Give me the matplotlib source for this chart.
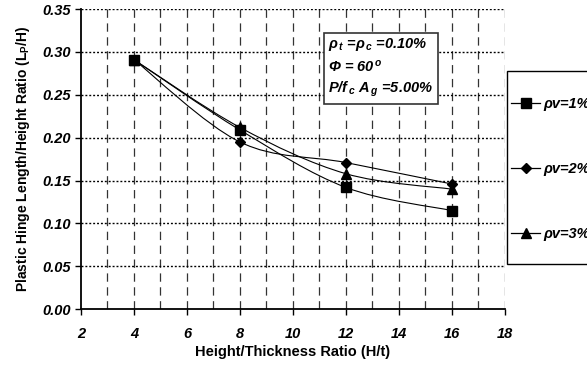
import numpy as np
import matplotlib.pyplot as plt
from matplotlib.path import Path
from matplotlib.patches import PathPatch, Rectangle
from matplotlib.lines import Line2D

plt.rcParams['font.family'] = ['Liberation Sans', 'DejaVu Sans']
plt.rcParams['mathtext.fontset'] = 'custom'
plt.rcParams['mathtext.rm'] = 'Liberation Sans:bold:italic'
plt.rcParams['mathtext.it'] = 'Liberation Sans:bold:italic'
plt.rcParams['mathtext.bf'] = 'Liberation Sans:bold:italic'
plt.rcParams['lines.scale_dashes'] = False

# data
ratio_ht = [4, 8, 12, 16]
rho_v1 = [0.291, 0.209, 0.142, 0.115]
rho_v2 = [0.291, 0.195, 0.171, 0.146]
rho_v3 = [0.291, 0.212, 0.158, 0.140]
labels = ['ρv=1%', 'ρv=2%', 'ρv=3%']
markers = ['s', 'D', '^']
msizes = [6.5, 5, 6.5]

x_ticks = list(range(2, 19, 2))
y_ticks = [0.00, 0.05, 0.10, 0.15, 0.20, 0.25, 0.30, 0.35]


def smooth_path(x, y, t=1/6):
    # Excel-like smoothed line: cubic bezier through the points
    x = np.asarray(x, float)
    y = np.asarray(y, float)
    n = len(x)
    verts = [(x[0], y[0])]
    codes = [Path.MOVETO]
    for i in range(n - 1):
        i0 = max(i - 1, 0)
        i3 = min(i + 2, n - 1)
        c1 = (x[i] + (x[i + 1] - x[i0]) * t, y[i] + (y[i + 1] - y[i0]) * t)
        c2 = (x[i + 1] - (x[i3] - x[i]) * t, y[i + 1] - (y[i3] - y[i]) * t)
        verts += [c1, c2, (x[i + 1], y[i + 1])]
        codes += [Path.CURVE4] * 3
    return Path(verts, codes)


fig = plt.figure(figsize=(5.87, 3.65), dpi=100)
ax = fig.add_axes([0.138, 0.153, 0.722, 0.822])

for yv, m, ms in zip([rho_v1, rho_v2, rho_v3], markers, msizes):
    ax.add_patch(PathPatch(smooth_path(ratio_ht, yv), fill=False,
                           edgecolor='black', lw=0.8, zorder=3))
    ax.plot(ratio_ht, yv, ls='none', marker=m, ms=ms, color='black', zorder=4)

ax.set_xlim(2, 18)
ax.set_ylim(0, 0.35)
ax.set_xticks(x_ticks)
ax.set_yticks(y_ticks)
ax.set_xticklabels([str(v) for v in x_ticks])
ax.set_yticklabels(['%.2f' % v for v in y_ticks])

for lab in ax.get_xticklabels() + ax.get_yticklabels():
    lab.set_fontweight('bold')
    lab.set_fontstyle('italic')
    lab.set_fontsize(10.5)

ax.tick_params(axis='x', direction='out', length=4, width=1, pad=9)
ax.tick_params(axis='y', direction='out', length=4, width=1, pad=3)

# grid
for xv in range(3, 19):
    ax.plot([xv, xv], [0, 0.35], color='#333333', lw=0.9, dashes=(6, 4), zorder=1)
for yv in y_ticks[1:]:
    ax.plot([2, 18], [yv, yv], color='black', lw=1.0, dashes=(1.4, 1.4), zorder=1)

for s in ['top', 'right']:
    ax.spines[s].set_visible(False)
ax.spines['left'].set_linewidth(1.3)
ax.spines['bottom'].set_linewidth(1.3)

ax.set_xlabel('Height/Thickness Ratio (H/t)', fontsize=10.5, fontweight='bold', labelpad=3)
ax.set_ylabel('Plastic Hinge Length/Height Ratio (L$\\mathregular{_P}$/H)',
              fontsize=10, fontweight='bold', labelpad=8)

# annotation box
note = ('$\\rho_{\\,t}$ =$\\rho_{\\,c}$ =0.10%  \n'
        '$\\Phi$ = 60$^{\\,o}$\n'
        'P/f$_{\\,c}$ A$_{\\,g}$ =5.00%')
ax.text(0.583, 0.912, note, transform=ax.transAxes, fontsize=10.5,
        fontweight='bold', fontstyle='italic', va='top', ha='left',
        linespacing=1.45, zorder=6,
        bbox=dict(boxstyle='square,pad=0.3', fc='white', ec='#333333', lw=1.2))

# legend (frame drawn separately, it runs past the figure edge)
fig.patches.append(Rectangle((507 / 587, 1 - 264 / 365), 0.3, (264 - 71) / 365,
                             transform=fig.transFigure, fc='white', ec='black',
                             lw=1.0, zorder=5))
handles = [Line2D([], [], color='black', lw=0.9, marker=m, ms=ms)
           for m, ms in zip(markers, [6.5, 5.5, 7])]
leg = fig.legend(handles, labels, loc='upper left',
                 bbox_to_anchor=(511 / 587, 1 - 97 / 365),
                 frameon=False, borderaxespad=0, borderpad=0, labelspacing=3.5,
                 handlelength=2.0, handletextpad=0.25,
                 prop=dict(size=10.5, weight='bold', style='italic'))
leg.set_zorder(6)

fig.savefig('out.png', dpi=100)
